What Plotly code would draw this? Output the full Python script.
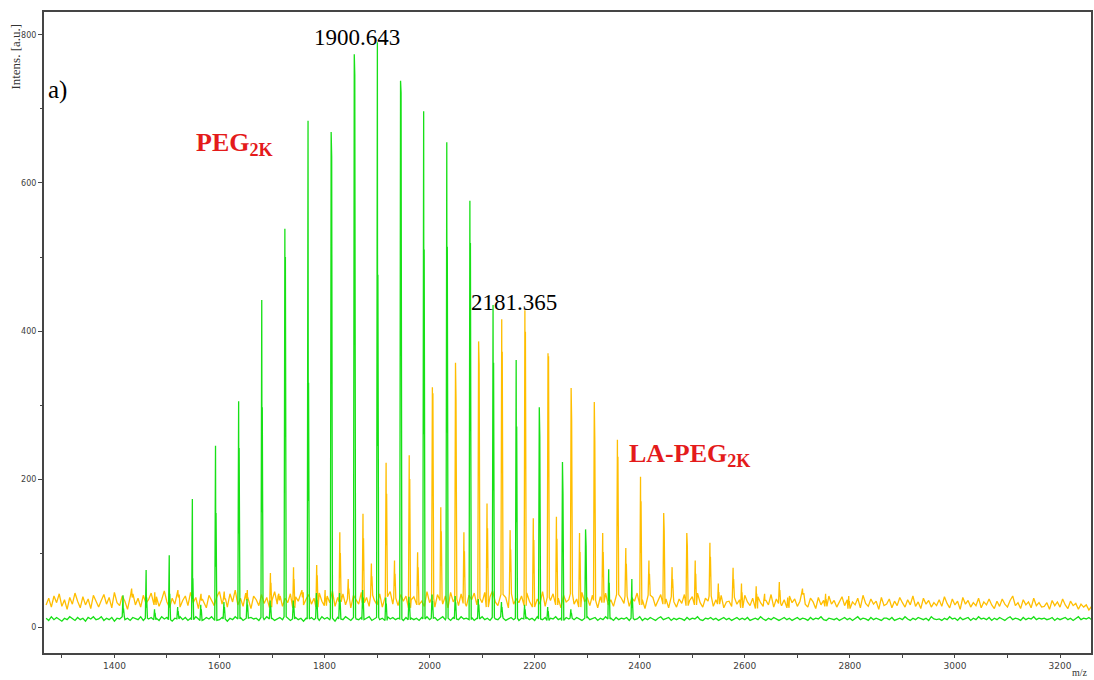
import numpy as np
import plotly.graph_objects as go

# ---------------- data ----------------
noise_start = 1270          # m/z of first baseline sample
noise_step = 5              # m/z spacing of baseline samples

# LA-PEG2K (orange) baseline noise, one row per 100 m/z
la_noise = [
    30,39,27,42,33,45,28,37,24,40,31,46,35,26,41,30,38,25,43,34,
    27,36,44,31,40,26,47,33,29,42,35,24,38,45,30,39,27,43,32,37,
    46,30,41,28,37,49,34,26,39,31,44,27,36,42,29,47,33,40,25,38,
    33,26,43,35,29,41,48,31,38,27,45,34,50,30,39,28,46,36,25,42,
    37,29,44,32,40,27,36,48,31,42,28,39,33,45,26,41,35,47,30,38,
    44,31,39,27,46,35,29,42,33,49,28,40,34,45,30,38,26,43,36,31,
    47,33,40,28,43,36,30,45,27,41,34,48,31,39,29,44,35,42,26,37,
    41,30,46,35,28,48,33,39,27,44,36,31,42,26,47,34,38,29,45,32,
    28,43,37,46,30,39,33,47,27,41,49,34,29,44,36,40,26,45,31,38,
    33,42,29,46,35,27,44,38,31,48,28,40,36,45,30,39,26,43,34,37,
    45,31,38,27,47,34,40,29,43,36,26,41,33,46,30,37,28,44,35,39,
    32,42,28,39,35,46,30,37,25,43,33,40,28,36,44,31,38,26,41,34,
    27,38,32,44,29,36,41,30,46,33,27,39,35,42,28,37,31,43,26,34,
    35,28,40,31,37,26,43,34,29,39,25,41,33,28,36,30,44,27,38,32,
    29,37,26,42,33,38,28,35,46,31,27,39,34,25,40,30,36,28,42,31,
    36,27,33,41,29,37,25,34,30,39,26,43,32,28,38,31,35,24,40,29,
    31,38,26,35,29,40,33,27,37,30,42,28,34,25,39,31,36,27,33,29,
    37,28,41,32,26,38,30,35,24,40,31,36,27,33,29,39,26,34,30,38,
    30,25,35,28,38,31,27,36,42,29,33,25,37,30,34,26,39,29,33,27,
    28,33,24,36,29,34,27,38,30,25,35,29,32,24,31,27,30,23,28,22,
]

# PEG2K (green) baseline noise, one row per 100 m/z
peg_noise = [
    12,9,14,10,13,11,8,12,10,14,11,9,13,10,12,8,13,11,14,10,
    11,14,9,12,10,13,8,12,11,14,10,12,9,13,11,10,14,9,12,11,
    13,10,12,9,14,11,13,10,8,12,11,14,10,13,9,12,10,14,11,9,
    10,13,11,14,9,12,10,13,11,8,12,10,14,11,13,9,12,10,13,11,
    12,9,13,10,14,11,12,9,11,13,10,14,12,9,11,13,10,12,8,12,
    11,13,10,12,9,14,11,13,10,12,8,13,11,10,14,12,9,13,11,10,
    13,10,12,14,9,11,13,10,12,9,14,11,13,10,12,11,9,13,10,12,
    10,12,9,13,11,14,10,12,13,9,11,14,10,12,9,13,11,10,14,11,
    12,10,13,9,12,11,14,10,12,9,13,11,10,14,12,9,11,13,10,12,
    9,12,11,13,10,12,9,14,11,10,13,9,12,11,14,10,12,9,13,11,
    12,10,13,11,9,12,14,10,11,13,9,12,10,14,11,12,9,13,10,12,
    11,13,9,12,10,11,14,9,12,10,13,11,9,12,14,10,11,13,9,12,
    10,12,11,9,13,10,12,11,14,10,9,12,11,13,10,12,9,11,13,10,
    12,9,11,13,10,12,10,13,9,11,12,10,14,11,9,12,10,13,11,9,
    11,13,10,12,9,11,13,10,12,11,9,13,10,12,11,14,10,9,12,11,
    10,12,9,11,13,10,12,9,11,14,10,12,11,9,13,10,12,11,9,12,
    12,10,13,9,11,12,10,14,11,9,12,10,13,11,10,12,9,14,11,10,
    11,9,12,10,14,11,12,9,13,10,11,13,9,12,10,14,11,12,10,13,
    9,12,10,13,11,9,12,14,10,12,11,9,13,10,12,11,14,10,12,11,
    12,10,11,13,9,12,10,11,13,10,12,9,11,14,10,12,11,13,10,12,
]

# PEG2K main series: m/z, apex height, second isotope height
peg_mz = [1416.4, 1460.4, 1504.4, 1548.4, 1592.5, 1636.5, 1680.5, 1724.5, 1768.6,
          1812.6, 1856.6, 1900.6, 1944.7, 1988.7, 2032.7, 2076.7, 2120.8, 2164.8,
          2208.8, 2252.9, 2296.9, 2340.9, 2385.0]
peg_h1 = [43, 77, 97, 173, 245, 305, 442, 538, 684, 669, 774, 790, 738, 697, 655,
          576, 435, 361, 297, 223, 132, 78, 65]
peg_h2 = [25, 40, 45, 66, 154, 242, 297, 500, 330, 635, 746, 476, 722, 510, 514,
          519, 357, 271, 257, 180, 110, 60, 40]

# PEG2K adduct series (+16)
peg_k_mz = [1476.4, 1520.4, 1564.4, 1608.5, 1652.5, 1696.5, 1740.5, 1784.6, 1828.6,
            1872.6, 1916.6, 1960.7, 2004.7, 2048.7, 2092.7, 2136.8, 2180.8, 2224.8,
            2268.9]
peg_k_h = [24, 27, 30, 34, 38, 36, 36, 46, 46, 50, 40, 41, 44, 42, 38, 34, 30, 27, 24]

# LA-PEG2K main series: m/z, apex height, second isotope height
la_mz = [1432.8, 1476.9, 1520.9, 1564.9, 1609.0, 1653.0, 1697.0, 1741.0, 1785.1,
         1829.1, 1873.2, 1917.2, 1961.2, 2005.3, 2049.3, 2093.3, 2137.3, 2181.4,
         2225.4, 2269.4, 2313.5, 2357.5, 2401.5, 2445.6, 2489.6, 2533.6, 2577.7,
         2621.7, 2665.7, 2709.8, 2753.8, 2797.8]
la_h1 = [52, 47, 50, 45, 48, 50, 73, 81, 84, 128, 153, 222, 232, 324, 357, 386, 416,
         428, 370, 323, 304, 253, 203, 154, 127, 114, 80, 55, 61, 52, 45, 42]
la_h2 = [40, 38, 40, 36, 38, 40, 60, 65, 70, 100, 120, 180, 200, 316, 307, 354, 372,
         399, 366, 280, 250, 230, 170, 130, 110, 95, 65, 45, 50, 44, 38, 35]

# LA-PEG2K adduct series (+16)
la_k_mz = [1713.0, 1757.0, 1801.1, 1845.1, 1889.2, 1933.2, 1977.2, 2021.3, 2065.3,
           2109.3, 2153.3, 2197.4, 2241.4, 2285.4, 2329.5, 2373.5, 2417.5, 2461.6,
           2505.6, 2549.6, 2593.7, 2637.7, 2681.7]
la_k_h = [45, 50, 50, 65, 86, 90, 101, 162, 128, 167, 131, 147, 149, 127, 127, 107,
          90, 81, 90, 59, 59, 45, 40]

x_ticks = [1400, 1600, 1800, 2000, 2200, 2400, 2600, 2800, 3000, 3200]
y_ticks = [0, 200, 400, 600, 800]

label_main = "1900.643"
label_la = "2181.365"


# ---------------- build stick spectra ----------------
def build(noise, peaks):
    nx = noise_start + noise_step * np.arange(len(noise))
    ny = np.asarray(noise, dtype=float)
    keep = np.ones(len(nx), dtype=bool)
    for m, _, _ in peaks:
        keep &= ~((nx > m - 2.0) & (nx < m + 3.0))
    pts = list(zip(nx[keep], ny[keep]))
    for m, h1, h2 in peaks:
        b = ny[int(np.argmin(np.abs(nx - m)))]
        lo = min(h1, h2)
        pts += [(m - 1.5, b), (m, h1), (m + 0.5, b + (lo - b) * 0.5),
                (m + 1.0, h2), (m + 2.5, b)]
    pts.sort(key=lambda p: p[0])
    return [p[0] for p in pts], [p[1] for p in pts]


la_peaks = list(zip(la_mz, la_h1, la_h2)) + [(m, h, h * 0.8) for m, h in zip(la_k_mz, la_k_h)]
peg_peaks = list(zip(peg_mz, peg_h1, peg_h2)) + [(m, h, h * 0.8) for m, h in zip(peg_k_mz, peg_k_h)]

la_x, la_y = build(la_noise, la_peaks)
peg_x, peg_y = build(peg_noise, peg_peaks)

fig = go.Figure()
fig.add_trace(go.Scatter(x=la_x, y=la_y, mode="lines",
                         line=dict(color="#FFBE00", width=1.3), name="LA-PEG2K"))
fig.add_trace(go.Scatter(x=peg_x, y=peg_y, mode="lines",
                         line=dict(color="#17E017", width=1.3), name="PEG2K"))

serif = "Liberation Serif, Times New Roman, serif"
axis_col = "#454545"

fig.update_layout(
    width=1094, height=680,
    margin=dict(l=44, r=1, t=12, b=27),
    paper_bgcolor="white", plot_bgcolor="white",
    showlegend=False,
    xaxis=dict(range=[1266, 3259], tickvals=x_ticks, showgrid=False, zeroline=False,
               showline=True, linecolor=axis_col, linewidth=2, mirror=True,
               ticks="outside", ticklen=3, tickcolor=axis_col,
               minor=dict(dtick=100, ticks="outside", ticklen=3, tickcolor=axis_col),
               tickfont=dict(family="DejaVu Sans", size=9, color="#404040")),
    yaxis=dict(range=[-35, 831], tickvals=y_ticks, showgrid=False, zeroline=False,
               showline=True, linecolor=axis_col, linewidth=2, mirror=True,
               ticks="outside", ticklen=4, tickcolor=axis_col,
               minor=dict(dtick=100, ticks="outside", ticklen=2, tickcolor=axis_col),
               tickfont=dict(family="DejaVu Sans", size=8, color="#404040")),
)

annos = [
    dict(x=1862.5, y=797, xref="x", yref="y", text=label_main, showarrow=False,
         font=dict(family=serif, size=23, color="black")),
    dict(x=2160.8, y=438, xref="x", yref="y", text=label_la, showarrow=False,
         font=dict(family=serif, size=23, color="black")),
    dict(x=1628, y=652, xref="x", yref="y", text="<b>PEG<sub>2K</sub></b>", showarrow=False,
         font=dict(family=serif, size=26, color="#E41B1B")),
    dict(x=2495, y=232, xref="x", yref="y", text="<b>LA-PEG<sub>2K</sub></b>", showarrow=False,
         font=dict(family=serif, size=26, color="#E41B1B")),
    dict(x=0.002, y=0.878, xref="paper", yref="paper", text="a)", showarrow=False,
         xanchor="left", yanchor="middle", font=dict(family=serif, size=25, color="black")),
    dict(x=-0.027, y=0.93, xref="paper", yref="paper", text="Intens. [a.u.]", showarrow=False,
         textangle=-90, xanchor="center", yanchor="middle",
         font=dict(family=serif, size=13, color="#333333")),
    dict(x=0.9895, y=-0.031, xref="paper", yref="paper", text="m/z", showarrow=False,
         xanchor="center", yanchor="middle", font=dict(family=serif, size=10, color="#333333")),
]
fig.update_layout(annotations=annos)

fig.write_html("out.html")
